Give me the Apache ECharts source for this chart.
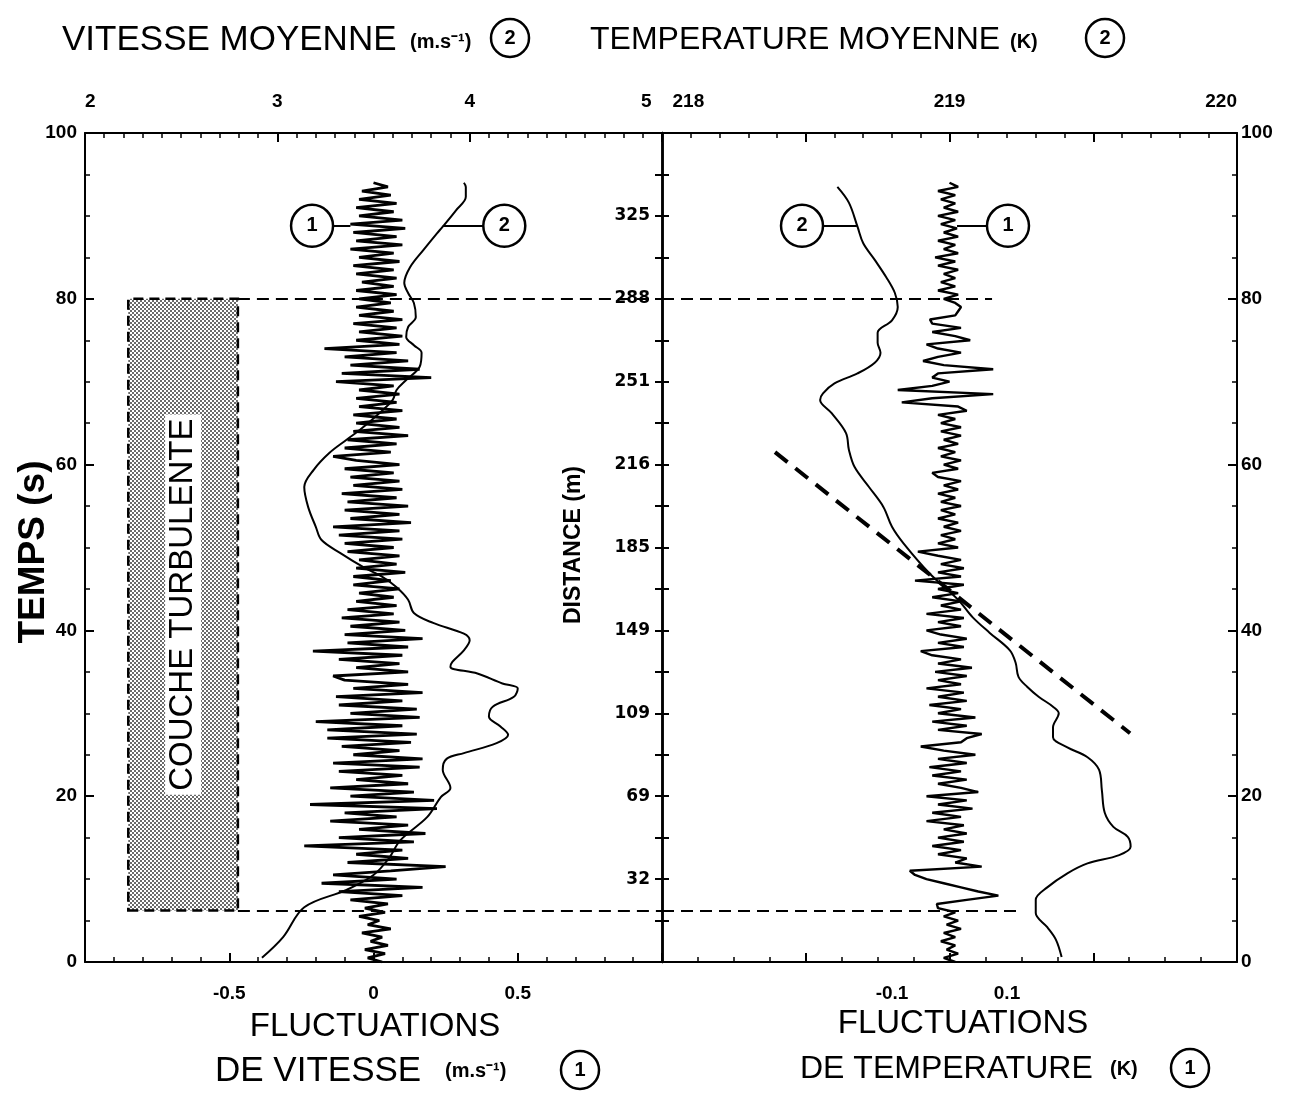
<!DOCTYPE html>
<html><head><meta charset="utf-8">
<script src="https://cdn.jsdelivr.net/npm/echarts@6/dist/echarts.min.js"></script>
<style>html,body{margin:0;padding:0;background:#fff}#c{width:1296px;height:1093px}</style>
</head><body><div id="c"></div>
<script>
// ---------- data ----------
const timeStep = 0.5; // s between samples of the fluctuation traces
// (1) velocity fluctuations, m/s, t = 0 .. 94 s
const velFluct = [
0.03,-0.02,0.04,-0.03,0.05,-0.01,0.03,-0.04,0.06,-0.02,0.02,-0.05,0.04,-0.03,0.05,
-0.08,0.10,-0.12,0.17,-0.18,0.08,
-0.14,0.06,0.25,-0.09,0.12,-0.06,
0.10,-0.24,0.14,-0.12,0.18,-0.05,
0.12,-0.15,0.08,-0.10,0.22,-0.22,
0.21,-0.08,0.14,-0.15,0.12,-0.06,
0.10,-0.12,0.16,-0.14,0.17,-0.07,
0.09,-0.11,0.13,-0.16,0.15,-0.16,
0.10,-0.20,0.16,-0.08,0.15,-0.12,
0.10,-0.13,0.17,-0.07,0.12,-0.10,
-0.14,0.12,-0.06,0.09,-0.12,0.10,
-0.21,0.12,-0.09,0.17,-0.10,0.11,
-0.08,0.09,-0.11,0.07,-0.09,0.08,
-0.06,0.07,-0.05,0.09,-0.07,0.06,
-0.07,0.11,-0.06,0.08,-0.05,0.09,
-0.09,0.07,-0.10,0.10,-0.12,0.09,
-0.14,0.13,-0.08,0.09,-0.10,0.12,
-0.09,0.08,-0.11,0.10,-0.07,0.09,
-0.08,0.07,-0.10,0.09,-0.06,-0.14,
0.06,-0.10,0.08,-0.09,0.12,-0.07,
0.09,-0.06,0.08,-0.07,0.10,-0.05,
0.08,-0.06,0.09,-0.05,0.07,-0.13,
0.20,-0.11,0.16,-0.08,0.12,-0.10,
0.08,-0.17,0.09,-0.06,0.10,-0.05,
0.08,-0.07,0.10,-0.05,0.07,-0.06,
0.06,-0.05,0.08,-0.06,0.07,-0.04,
0.08,-0.06,0.07,-0.07,0.09,-0.05,
0.07,-0.08,0.10,-0.06,0.08,-0.07,
0.11,-0.08,0.10,-0.05,0.07,-0.06,
0.08,-0.05,0.06,-0.04,0.05,0.00];
// (1) temperature fluctuations, K, t = 0 .. 94 s
const tempFluct = [
0.01,-0.01,0.015,-0.005,0.01,-0.015,0.01,-0.01,0.02,-0.005,0.015,-0.01,0.01,-0.02,-0.022,
0.03,0.085,0.05,0.02,-0.01,-0.04,
-0.06,-0.069,0.056,0.01,0.03,-0.02,
0.02,-0.03,0.025,-0.02,0.03,-0.01,
0.025,-0.04,0.02,-0.03,0.04,-0.02,
0.03,-0.04,0.05,0.02,-0.02,0.03,
-0.03,0.02,-0.035,0.03,-0.02,0.045,
-0.01,-0.05,0.02,0.03,0.056,-0.02,
0.03,-0.03,0.045,-0.02,0.02,-0.035,
0.03,-0.02,0.025,-0.04,0.02,-0.02,
0.03,-0.025,0.039,-0.02,0.02,-0.03,
-0.05,0.025,-0.02,0.03,-0.015,-0.04,
0.02,-0.02,0.025,-0.04,0.02,-0.015,
0.02,-0.03,0.015,-0.02,0.025,-0.06,
0.02,-0.02,0.025,-0.015,0.02,-0.02,
-0.055,0.015,-0.02,0.01,-0.015,0.02,
-0.01,0.015,-0.02,0.01,-0.015,0.02,
-0.015,0.01,-0.02,0.015,-0.01,0.02,
-0.02,-0.03,0.015,-0.01,0.02,-0.015,
0.01,-0.02,0.015,-0.01,0.02,-0.015,
0.02,-0.015,0.01,-0.02,0.03,0.015,
-0.083,-0.03,0.076,-0.09,-0.03,0.0,
-0.03,-0.02,0.076,-0.01,-0.046,-0.02,
0.02,-0.02,-0.04,0.036,0.01,-0.03,
0.02,-0.03,-0.034,0.01,0.015,0.02,
0.01,-0.01,0.015,-0.02,0.01,-0.015,
0.01,-0.01,0.015,-0.02,0.01,-0.025,
0.015,-0.01,0.01,-0.02,0.015,-0.01,
0.013,-0.015,0.01,-0.02,0.015,-0.01,
0.01,-0.015,0.01,-0.02,0.015,0.0];
// (2) mean velocity [m/s, t]
const velMean = [[2.92,0.5],[3.03,3],[3.14,6.6],[3.36,8.7],[3.5,10.5],[3.58,12.5],[3.64,14.7],[3.78,17.5],[3.85,19.9],[3.9,21],[3.86,23.2],[3.88,24.5],[3.97,25.2],[4.14,26.4],[4.2,27.4],[4.16,28.4],[4.1,29.6],[4.12,30.8],[4.23,32],[4.25,33],[4.17,33.6],[4.04,34.8],[3.9,35.6],[3.91,36.2],[3.97,37.6],[4.0,38.8],[3.97,39.6],[3.81,40.9],[3.71,42.1],[3.68,43.7],[3.62,45.2],[3.55,46.4],[3.45,47.6],[3.33,49.3],[3.23,50.9],[3.2,52.5],[3.16,54.9],[3.14,57.3],[3.19,59.4],[3.27,61.4],[3.36,63],[3.43,64.2],[3.53,66.2],[3.6,67.8],[3.62,69],[3.67,70.2],[3.74,71.8],[3.75,73.5],[3.71,74.4],[3.67,75.4],[3.68,76.6],[3.72,77.8],[3.71,79.5],[3.68,80.7],[3.66,81.9],[3.69,83.8],[3.76,85.9],[3.83,87.9],[3.86,88.7],[3.93,90.7],[3.98,92.3],[3.98,93.5],[3.97,94]];
// (2) mean temperature [K, t]
const tempMean = [[219.39,0.6],[219.37,2.7],[219.34,4.2],[219.30,5.9],[219.30,7.5],[219.34,9.0],[219.41,10.7],[219.48,11.9],[219.59,12.9],[219.63,13.9],[219.62,15.1],[219.57,16.3],[219.54,18],[219.53,20.7],[219.52,23.2],[219.48,24.7],[219.41,25.9],[219.36,27.1],[219.36,28.3],[219.38,30],[219.36,30.8],[219.31,32],[219.27,33.2],[219.24,34.4],[219.23,36.1],[219.21,37.6],[219.14,39.7],[219.08,41.6],[219.03,43.7],[218.93,46.9],[218.84,50.5],[218.80,52.5],[218.77,54.9],[218.72,57.3],[218.67,59.7],[218.65,61.8],[218.64,63.8],[218.59,66.2],[218.55,67.8],[218.56,68.6],[218.6,69.8],[218.68,71],[218.74,72.3],[218.76,73.5],[218.75,74.7],[218.75,75.9],[218.8,77.4],[218.82,79],[218.81,80.7],[218.78,82.6],[218.74,84.7],[218.70,86.7],[218.68,88.7],[218.65,91.6],[218.61,93.5]];
// tick labels
const velFluctLabels = [-0.5, 0, 0.5];
const tempFluctLabels = [-0.1, 0.1];
const tempMeanLabels = [218, 219, 220];
const distTimes  = [10, 20, 30, 40, 50, 60, 70, 80, 90];
const distLabels = ['32','69','109','149','185','216','251','288','325'];
// turbulent layer: time limits (s) and fluctuation extent of the shaded box
const layerTimes = [6.2, 80];
const layerBox = [-0.85, -0.47];
// dashed trend line, right panel [fluct K, t]
const trendLine = [[-0.3035, 61.5], [0.314, 27.6]];

// ---------- chart ----------
const FONT = '"Liberation Sans", Arial, sans-serif';
const lab = {color:'#000', fontFamily:FONT, fontWeight:'bold', fontSize:19};
function base(extra){
  return Object.assign({
    type:'value',
    axisLine:{show:true, onZero:false, lineStyle:{color:'#000', width:2}},
    axisTick:{show:true, inside:true, length:9, lineStyle:{color:'#000', width:2}},
    minorTick:{show:true, length:5, lineStyle:{color:'#000', width:1.5}},
    splitLine:{show:false}, minorSplitLine:{show:false}
  }, extra);
}
const pc = document.createElement('canvas'); pc.width = 4; pc.height = 4;
const px = pc.getContext('2d');
px.fillStyle = '#ffffff'; px.fillRect(0,0,4,4);
px.fillStyle = '#6a6a6a'; px.fillRect(0,0,2,2); px.fillRect(2,2,2,2);

const dash = [12, 7];
const circLabel = (t) => ({show:true, formatter:t, color:'#000', fontFamily:FONT, fontWeight:'bold', fontSize:20});
const circStyle = {color:'#fff', borderColor:'#000', borderWidth:2.5};

const chart = echarts.init(document.getElementById('c'));
const option = {
  animation:false,
  backgroundColor:'#fff',
  grid:[
    {left:85, top:133, width:577, height:829},
    {left:662, top:133, width:575, height:829}
  ],
  xAxis:[
    base({gridIndex:0, position:'bottom', min:-1, max:1, interval:0.5,
      minorTick:{show:true, splitNumber:5, length:5, lineStyle:{color:'#000', width:1.5}},
      axisLabel:Object.assign({}, lab, {margin:22, customValues:velFluctLabels})}),
    base({gridIndex:0, position:'top', min:2, max:5, interval:1,
      minorTick:{show:true, splitNumber:10, length:5, lineStyle:{color:'#000', width:1.5}},
      axisLabel:Object.assign({}, lab, {margin:22, alignMinLabel:'left', alignMaxLabel:'right',
        formatter:(v)=> v===5 ? '5  ' : String(v)})}),
    base({gridIndex:1, position:'bottom', min:-0.5, max:0.5, interval:0.25,
      minorTick:{show:true, splitNumber:4, length:5, lineStyle:{color:'#000', width:1.5}},
      axisLabel:Object.assign({}, lab, {margin:22, customValues:tempFluctLabels})}),
    base({gridIndex:1, position:'top', min:218, max:220, interval:0.5,
      minorTick:{show:true, splitNumber:5, length:5, lineStyle:{color:'#000', width:1.5}},
      axisLabel:Object.assign({}, lab, {margin:22, customValues:tempMeanLabels, alignMinLabel:'left', alignMaxLabel:'right',
        formatter:(v)=> v===218 ? '  218' : String(v)})})
  ],
  yAxis:[
    base({gridIndex:0, position:'left', min:0, max:100, interval:20,
      minorTick:{show:true, splitNumber:4, length:5, lineStyle:{color:'#000', width:1.5}},
      axisLabel:Object.assign({}, lab, {margin:8})}),
    base({gridIndex:0, position:'right', min:0, max:100, interval:5,
      axisLine:{show:true, onZero:false, lineStyle:{color:'#000', width:2.5}},
      axisTick:{show:true, inside:false, length:7, lineStyle:{color:'#000', width:2}},
      minorTick:{show:false}, axisLabel:{show:false}}),
    base({gridIndex:1, position:'left', min:0, max:100, interval:5,
      axisLine:{show:true, onZero:false, lineStyle:{color:'#000', width:2.5}},
      axisTick:{show:true, inside:false, length:7, lineStyle:{color:'#000', width:2}},
      minorTick:{show:false},
      axisLabel:{show:true, color:'#000', fontFamily:'"DejaVu Sans", sans-serif', fontWeight:'bold', fontSize:17, margin:12,
        customValues:distTimes, formatter:(v)=>{const i = distTimes.indexOf(v); return i>=0 ? distLabels[i] : '';}}}),
    base({gridIndex:1, position:'right', min:0, max:100, interval:20,
      minorTick:{show:true, splitNumber:4, length:5, lineStyle:{color:'#000', width:1.5}},
      axisLabel:Object.assign({}, lab, {margin:4})})
  ],
  series:[
    {type:'line', name:'velFluct', xAxisIndex:0, yAxisIndex:0, symbol:'none', z:3,
     lineStyle:{color:'#000', width:2.8},
     data: velFluct.map((v,i)=>[v, i*timeStep]),
     markArea:{silent:true,
       itemStyle:{color:{image:pc, repeat:'repeat'}, borderColor:'#000', borderWidth:2.5, borderType:[10,6]},
       label:{show:true, position:'inside', rotate:90, formatter:'COUCHE TURBULENTE', color:'#000', fontFamily:FONT, fontSize:33, backgroundColor:'#fff', padding:[3,4,0,4]},
       data:[[{coord:[layerBox[0], layerTimes[0]]},{coord:[layerBox[1], layerTimes[1]]}]]},
     markLine:{silent:true, symbol:['none','none'], label:{show:false},
       lineStyle:{color:'#000', width:2, type:dash},
       data:[
         [{coord:[layerBox[1], layerTimes[1]]},{coord:[1, layerTimes[1]]}],
         [{coord:[layerBox[1], layerTimes[0]]},{coord:[1, layerTimes[0]]}],
         [{coord:[-0.165, 88.8], lineStyle:{type:'solid', width:2}},{coord:[-0.08, 88.8]}]
       ]},
     markPoint:{silent:true, symbol:'circle', symbolSize:42, itemStyle:circStyle, label:circLabel('1'),
       data:[{coord:[-0.213, 88.8]}]}
    },
    {type:'line', name:'velMean', xAxisIndex:1, yAxisIndex:0, symbol:'none', smooth:0.35, z:4,
     lineStyle:{color:'#000', width:2},
     data: velMean,
     markLine:{silent:true, symbol:['none','none'], label:{show:false},
       lineStyle:{color:'#000', width:2, type:'solid'},
       data:[[{coord:[3.86, 88.8]},{coord:[4.07, 88.8]}]]},
     markPoint:{silent:true, symbol:'circle', symbolSize:42, itemStyle:circStyle, label:circLabel('2'),
       data:[{coord:[4.18, 88.8]}]}
    },
    {type:'line', name:'tempFluct', xAxisIndex:2, yAxisIndex:3, symbol:'none', z:3,
     lineStyle:{color:'#000', width:2.4},
     data: tempFluct.map((v,i)=>[v, i*timeStep]),
     markLine:{silent:true, symbol:['none','none'], label:{show:false},
       lineStyle:{color:'#000', width:2, type:dash},
       data:[
         [{coord:[-0.5, layerTimes[1]]},{coord:[0.074, layerTimes[1]]}],
         [{coord:[-0.5, layerTimes[0]]},{coord:[0.12, layerTimes[0]]}],
         [{coord:trendLine[0], lineStyle:{type:[16,10], width:4}},{coord:trendLine[1]}],
         [{coord:[0.013, 88.8], lineStyle:{type:'solid', width:2}},{coord:[0.065, 88.8]}]
       ]},
     markPoint:{silent:true, symbol:'circle', symbolSize:42, itemStyle:circStyle, label:circLabel('1'),
       data:[{coord:[0.1017, 88.8]}]}
    },
    {type:'line', name:'tempMean', xAxisIndex:3, yAxisIndex:3, symbol:'none', smooth:0.35, z:4,
     lineStyle:{color:'#000', width:2},
     data: tempMean,
     markLine:{silent:true, symbol:['none','none'], label:{show:false},
       lineStyle:{color:'#000', width:2, type:'solid'},
       data:[[{coord:[218.557, 88.8]},{coord:[218.678, 88.8]}]]},
     markPoint:{silent:true, symbol:'circle', symbolSize:42, itemStyle:circStyle, label:circLabel('2'),
       data:[{coord:[218.487, 88.8]}]}
    }
  ],
  graphic:[]
};

function txt(x, y, text, size, opts){
  opts = opts || {};
  const el = {type:'text', x:x, y:y, silent:true,
    style:{text:text, fill:'#000', font:(opts.weight||'normal')+' '+size+'px '+FONT,
      textAlign:opts.align||'left', textVerticalAlign:'middle'}};
  if (opts.rot) el.rotation = opts.rot;
  return el;
}
function circ(cx, cy, t){
  return [{type:'circle', silent:true, shape:{cx:cx, cy:cy, r:19}, style:{fill:'#fff', stroke:'#000', lineWidth:2.5}},
          {type:'text', silent:true, x:cx, y:cy, style:{text:t, fill:'#000', font:'bold 20px '+FONT, textAlign:'center', textVerticalAlign:'middle'}}];
}
option.graphic = [
  txt(62, 40, 'VITESSE MOYENNE', 35),
  txt(410, 42, '(m.s\u207B\u00B9)', 20, {weight:'bold'}),
  ...circ(510, 38, '2'),
  txt(590, 40, 'TEMPERATURE MOYENNE', 32),
  txt(1010, 42, '(K)', 20, {weight:'bold'}),
  ...circ(1105, 38, '2'),
  txt(375, 1027, 'FLUCTUATIONS', 33, {align:'center'}),
  txt(215, 1071, 'DE VITESSE', 35),
  txt(445, 1071, '(m.s\u207B\u00B9)', 20, {weight:'bold'}),
  ...circ(580, 1070, '1'),
  txt(963, 1024, 'FLUCTUATIONS', 33, {align:'center'}),
  txt(800, 1069, 'DE TEMPERATURE', 32),
  txt(1110, 1069, '(K)', 20, {weight:'bold'}),
  ...circ(1190, 1068, '1'),
  txt(34, 552, 'TEMPS (s)', 37, {align:'center', rot:Math.PI/2, weight:'bold'}),
  txt(574, 545, 'DISTANCE (m)', 23, {align:'center', rot:Math.PI/2, weight:'bold'})
];
chart.setOption(option);
</script>
</body></html>
